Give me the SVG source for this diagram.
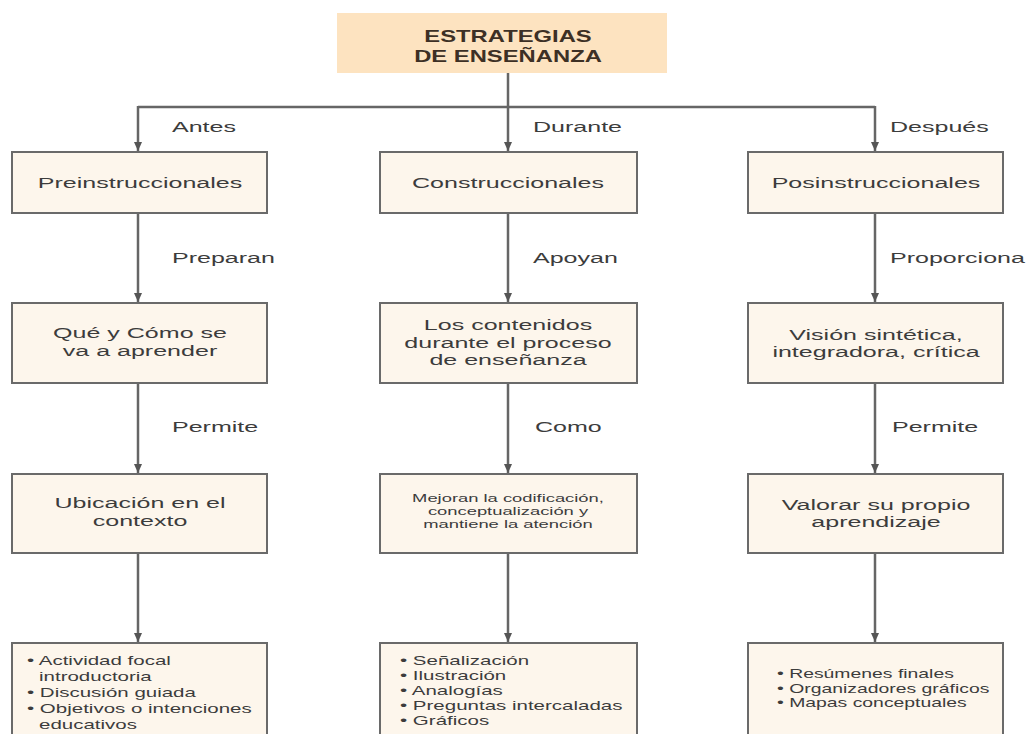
<svg xmlns="http://www.w3.org/2000/svg" width="1027" height="734" viewBox="0 0 1027 734">
<style>
.bg{fill:#ffffff}
.box{fill:#fdf6ec;stroke:#6a6a6a;stroke-width:2}
.title-box{fill:#fde3c0}
.t{font-family:"Liberation Sans",Arial,sans-serif;fill:#3c3c3c;font-size:15px}
.c{text-anchor:middle}
.sm{font-size:11px}
.bl{font-size:12.5px}
.title{font-family:"Liberation Sans",Arial,sans-serif;font-weight:bold;font-size:17px;fill:#3d3025;text-anchor:middle}
.conn{stroke:#666666;stroke-width:2.5;fill:none}
</style>
<defs>
<marker id="arr" markerUnits="userSpaceOnUse" markerWidth="10" markerHeight="8" refX="9" refY="4" orient="auto">
<path d="M0,0 L9,4 L0,8 Z" fill="#555555"/>
</marker>
</defs>
<rect class="bg" x="0" y="0" width="1027" height="734"/>

<g id="connectors">
<line class="conn" x1="508" y1="73" x2="508" y2="151" marker-end="url(#arr)"/>
<line class="conn" x1="138" y1="107" x2="875" y2="107"/>
<line class="conn" x1="138" y1="106" x2="138" y2="151" marker-end="url(#arr)"/>
<line class="conn" x1="875" y1="106" x2="875" y2="151" marker-end="url(#arr)"/>
<line class="conn" x1="138" y1="213" x2="138" y2="302" marker-end="url(#arr)"/>
<line class="conn" x1="508" y1="213" x2="508" y2="302" marker-end="url(#arr)"/>
<line class="conn" x1="875" y1="213" x2="875" y2="302" marker-end="url(#arr)"/>
<line class="conn" x1="138" y1="383" x2="138" y2="473" marker-end="url(#arr)"/>
<line class="conn" x1="508" y1="383" x2="508" y2="473" marker-end="url(#arr)"/>
<line class="conn" x1="875" y1="383" x2="875" y2="473" marker-end="url(#arr)"/>
<line class="conn" x1="138" y1="553" x2="138" y2="642" marker-end="url(#arr)"/>
<line class="conn" x1="508" y1="553" x2="508" y2="642" marker-end="url(#arr)"/>
<line class="conn" x1="875" y1="553" x2="875" y2="642" marker-end="url(#arr)"/>
<text class="t" transform="translate(172,132) scale(1.67,1)">Antes</text>
<text class="t" transform="translate(533,132) scale(1.67,1)">Durante</text>
<text class="t" transform="translate(890,132) scale(1.67,1)">Después</text>
<text class="t" transform="translate(172,263) scale(1.67,1)">Preparan</text>
<text class="t" transform="translate(533,263) scale(1.67,1)">Apoyan</text>
<text class="t" transform="translate(890,263) scale(1.67,1)">Proporciona</text>
<text class="t" transform="translate(172,432) scale(1.67,1)">Permite</text>
<text class="t" transform="translate(535,432) scale(1.67,1)">Como</text>
<text class="t" transform="translate(892,432) scale(1.67,1)">Permite</text>
</g>

<g id="title">
<rect class="title-box" x="337" y="13" width="330" height="60"/>
<text class="title" transform="translate(508,42) scale(1.4,1)">ESTRATEGIAS</text>
<text class="title" transform="translate(508,62) scale(1.4,1)">DE ENSEÑANZA</text>
</g>

<g id="preinstruccionales">
<rect class="box" x="12" y="152" width="255" height="61"/>
<text class="t c" transform="translate(140,188) scale(1.67,1)">Preinstruccionales</text>
</g>
<g id="construccionales">
<rect class="box" x="380" y="152" width="257" height="61"/>
<text class="t c" transform="translate(508,188) scale(1.67,1)">Construccionales</text>
</g>
<g id="posinstruccionales">
<rect class="box" x="748" y="152" width="255" height="61"/>
<text class="t c" transform="translate(876,188) scale(1.67,1)">Posinstruccionales</text>
</g>

<g id="que-como">
<rect class="box" x="12" y="303" width="255" height="80"/>
<text class="t c" transform="translate(140,338) scale(1.67,1)">Qué y Cómo se</text>
<text class="t c" transform="translate(140,356) scale(1.67,1)">va a aprender</text>
</g>
<g id="contenidos">
<rect class="box" x="380" y="303" width="257" height="80"/>
<text class="t c" transform="translate(508,330) scale(1.67,1)">Los contenidos</text>
<text class="t c" transform="translate(508,348) scale(1.67,1)">durante el proceso</text>
<text class="t c" transform="translate(508,365) scale(1.67,1)">de enseñanza</text>
</g>
<g id="vision">
<rect class="box" x="748" y="303" width="255" height="80"/>
<text class="t c" transform="translate(876,340) scale(1.67,1)">Visión sintética,</text>
<text class="t c" transform="translate(876,357) scale(1.67,1)">integradora, crítica</text>
</g>

<g id="ubicacion">
<rect class="box" x="12" y="474" width="255" height="79"/>
<text class="t c" transform="translate(140,508) scale(1.67,1)">Ubicación en el</text>
<text class="t c" transform="translate(140,526) scale(1.67,1)">contexto</text>
</g>
<g id="mejoran">
<rect class="box" x="380" y="474" width="257" height="79"/>
<text class="t c sm" transform="translate(508,502) scale(1.67,1)">Mejoran la codificación,</text>
<text class="t c sm" transform="translate(508,515) scale(1.67,1)">conceptualización y</text>
<text class="t c sm" transform="translate(508,528) scale(1.67,1)">mantiene la atención</text>
</g>
<g id="valorar">
<rect class="box" x="748" y="474" width="255" height="79"/>
<text class="t c" transform="translate(876,510) scale(1.67,1)">Valorar su propio</text>
<text class="t c" transform="translate(876,527) scale(1.67,1)">aprendizaje</text>
</g>

<g id="lista-pre">
<rect class="box" x="12" y="643" width="255" height="100"/>
<text class="t bl" transform="translate(27,665) scale(1.64,1)">• Actividad focal</text>
<text class="t bl" transform="translate(39,681) scale(1.64,1)">introductoria</text>
<text class="t bl" transform="translate(27,697) scale(1.64,1)">• Discusión guiada</text>
<text class="t bl" transform="translate(27,713) scale(1.64,1)">• Objetivos o intenciones</text>
<text class="t bl" transform="translate(39,729) scale(1.64,1)">educativos</text>
</g>
<g id="lista-con">
<rect class="box" x="380" y="643" width="257" height="100"/>
<text class="t bl" transform="translate(400,665) scale(1.64,1)">• Señalización</text>
<text class="t bl" transform="translate(400,680) scale(1.64,1)">• Ilustración</text>
<text class="t bl" transform="translate(400,695) scale(1.64,1)">• Analogías</text>
<text class="t bl" transform="translate(400,710) scale(1.64,1)">• Preguntas intercaladas</text>
<text class="t bl" transform="translate(400,725) scale(1.64,1)">• Gráficos</text>
</g>
<g id="lista-pos">
<rect class="box" x="748" y="643" width="255" height="100"/>
<text class="t bl" transform="translate(777,678) scale(1.55,1)">• Resúmenes finales</text>
<text class="t bl" transform="translate(777,693) scale(1.55,1)">• Organizadores gráficos</text>
<text class="t bl" transform="translate(777,707) scale(1.55,1)">• Mapas conceptuales</text>
</g>
</svg>
